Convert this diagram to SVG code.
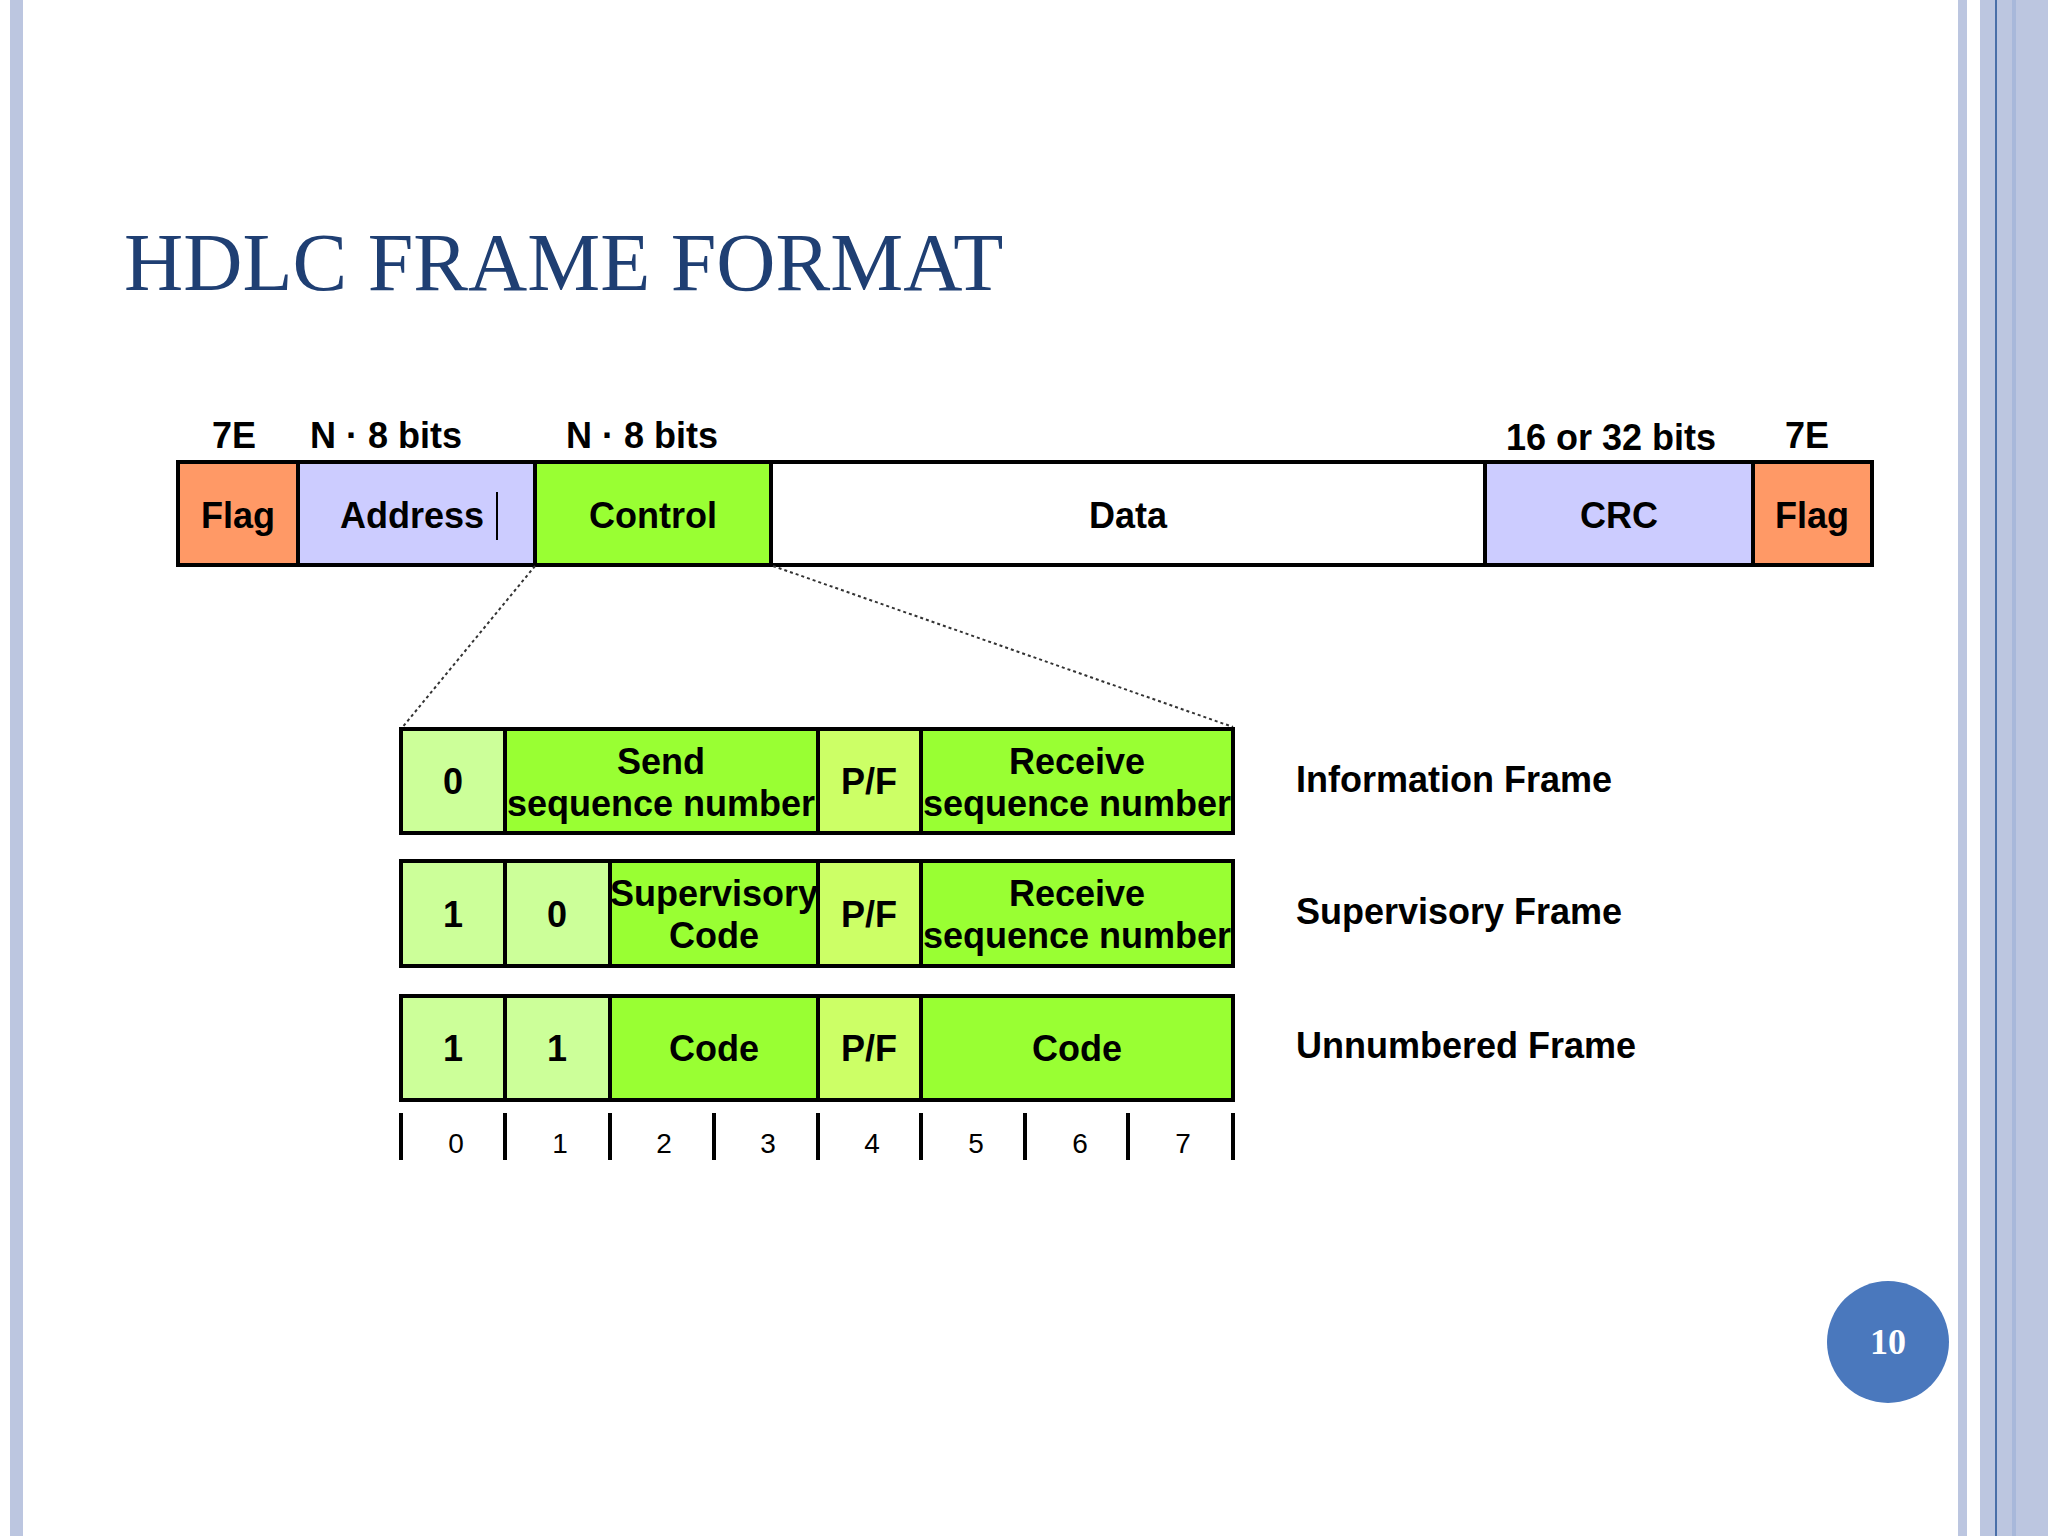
<svg xmlns="http://www.w3.org/2000/svg" width="2048" height="1536" viewBox="0 0 2048 1536">
<style>
.t{font-family:"Liberation Sans",Arial,sans-serif;font-weight:bold;font-size:36px;fill:#000;text-anchor:middle;dominant-baseline:central}
.c{stroke:#000;stroke-width:4}
.n{font-family:"Liberation Sans",Arial,sans-serif;font-size:28px;fill:#000;text-anchor:middle;dominant-baseline:central}
.r{font-family:"Liberation Sans",Arial,sans-serif;font-weight:bold;font-size:36px;fill:#000;dominant-baseline:central}
</style>
<rect width="2048" height="1536" fill="#fff"/>
<rect x="10" y="0" width="13" height="1536" fill="#bcc6e0"/>
<rect x="1958" y="0" width="9" height="1536" fill="#bcc6e0"/>
<rect x="1980" y="0" width="68" height="1536" fill="#bcc6e0"/>
<rect x="1995" y="0" width="2" height="1536" fill="#4a6fa8"/>
<rect x="2012" y="0" width="4" height="1536" fill="#a8b8da"/>
<text x="124" y="290" font-family="Liberation Serif,Times New Roman,serif" font-size="82" fill="#1f3f73">HDLC FRAME FORMAT</text>
<g id="toplabels" font-family="Liberation Sans,Arial,sans-serif" font-weight="bold" font-size="36" fill="#000">
<text x="212" y="448">7E</text><text x="310" y="448">N · 8 bits</text><text x="566" y="448">N · 8 bits</text>
<text x="1506" y="450">16 or 32 bits</text><text x="1785" y="448">7E</text>
</g>
<g id="frame">
<rect class="c" x="178" y="462" width="120" height="103" fill="#ff9966"/><text class="t" x="238" y="515">Flag</text>
<rect class="c" x="298" y="462" width="237" height="103" fill="#ccccff"/><text class="t" x="412" y="515">Address</text><line x1="497" y1="492" x2="497" y2="540" stroke="#000" stroke-width="2"/>
<rect class="c" x="535" y="462" width="236" height="103" fill="#99ff33"/><text class="t" x="653" y="515">Control</text>
<rect class="c" x="771" y="462" width="714" height="103" fill="#fff"/><text class="t" x="1128" y="515">Data</text>
<rect class="c" x="1485" y="462" width="268" height="103" fill="#ccccff"/><text class="t" x="1619" y="515">CRC</text>
<rect class="c" x="1753" y="462" width="119" height="103" fill="#ff9966"/><text class="t" x="1812" y="515">Flag</text>
</g>
<g id="connectors" stroke="#333" stroke-width="2" stroke-dasharray="3,3">
<line x1="535" y1="566" x2="401" y2="729"/><line x1="773" y1="566" x2="1233" y2="727"/>
</g>
<g id="info">
<rect class="c" x="401" y="729" width="104" height="104" fill="#ccff99"/><text class="t" x="453" y="781">0</text>
<rect class="c" x="505" y="729" width="313" height="104" fill="#99ff33"/><text class="t" x="661" y="761">Send</text><text class="t" x="661" y="803">sequence number</text>
<rect class="c" x="818" y="729" width="103" height="104" fill="#ccff66"/><text class="t" x="869" y="781">P/F</text>
<rect class="c" x="921" y="729" width="312" height="104" fill="#99ff33"/><text class="t" x="1077" y="761">Receive</text><text class="t" x="1077" y="803">sequence number</text>
<text class="r" x="1296" y="779">Information Frame</text>
</g>
<g id="super">
<rect class="c" x="401" y="861" width="104" height="105" fill="#ccff99"/><text class="t" x="453" y="914">1</text>
<rect class="c" x="505" y="861" width="105" height="105" fill="#ccff99"/><text class="t" x="557" y="914">0</text>
<rect class="c" x="610" y="861" width="208" height="105" fill="#99ff33"/><text class="t" x="714" y="893">Supervisory</text><text class="t" x="714" y="935">Code</text>
<rect class="c" x="818" y="861" width="103" height="105" fill="#ccff66"/><text class="t" x="869" y="914">P/F</text>
<rect class="c" x="921" y="861" width="312" height="105" fill="#99ff33"/><text class="t" x="1077" y="893">Receive</text><text class="t" x="1077" y="935">sequence number</text>
<text class="r" x="1296" y="911">Supervisory Frame</text>
</g>
<g id="unnum">
<rect class="c" x="401" y="996" width="104" height="104" fill="#ccff99"/><text class="t" x="453" y="1048">1</text>
<rect class="c" x="505" y="996" width="105" height="104" fill="#ccff99"/><text class="t" x="557" y="1048">1</text>
<rect class="c" x="610" y="996" width="208" height="104" fill="#99ff33"/><text class="t" x="714" y="1048">Code</text>
<rect class="c" x="818" y="996" width="103" height="104" fill="#ccff66"/><text class="t" x="869" y="1048">P/F</text>
<rect class="c" x="921" y="996" width="312" height="104" fill="#99ff33"/><text class="t" x="1077" y="1048">Code</text>
<text class="r" x="1296" y="1045">Unnumbered Frame</text>
</g>
<g id="bits" stroke="#000" stroke-width="4">
<line x1="401" y1="1113" x2="401" y2="1160"/><line x1="505" y1="1113" x2="505" y2="1160"/><line x1="610" y1="1113" x2="610" y2="1160"/><line x1="714" y1="1113" x2="714" y2="1160"/><line x1="818" y1="1113" x2="818" y2="1160"/><line x1="921" y1="1113" x2="921" y2="1160"/><line x1="1025" y1="1113" x2="1025" y2="1160"/><line x1="1128" y1="1113" x2="1128" y2="1160"/><line x1="1233" y1="1113" x2="1233" y2="1160"/>
</g>
<g id="bitnums">
<text class="n" x="456" y="1143">0</text><text class="n" x="560" y="1143">1</text><text class="n" x="664" y="1143">2</text><text class="n" x="768" y="1143">3</text><text class="n" x="872" y="1143">4</text><text class="n" x="976" y="1143">5</text><text class="n" x="1080" y="1143">6</text><text class="n" x="1183" y="1143">7</text>
</g>
<g id="page">
<circle cx="1888" cy="1342" r="61" fill="#4a78bd"/>
<text x="1888" y="1354" font-family="Liberation Serif,serif" font-weight="bold" font-size="36" fill="#fff" text-anchor="middle">10</text>
</g>
</svg>
